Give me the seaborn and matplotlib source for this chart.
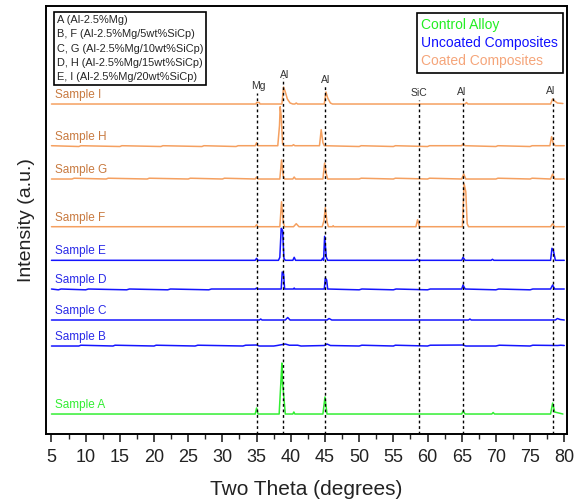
import numpy as np
import pandas as pd
import matplotlib
matplotlib.use("Agg")
import matplotlib.pyplot as plt
from matplotlib.lines import Line2D
import seaborn as sns

# XRD traces: two-theta positions and peak heights (a.u.)
samples = ["Sample A", "Sample B", "Sample C", "Sample D", "Sample E",
           "Sample F", "Sample G", "Sample H", "Sample I"]
groups = ["control", "uncoated", "uncoated", "uncoated", "uncoated",
          "coated", "coated", "coated", "coated"]
offsets = [20, 88, 114, 145, 173.7, 207.3, 255, 288.3, 330]

tt_a = [5, 34.8, 35.0, 35.2, 38.3, 38.6, 38.7, 38.8, 38.9, 39.2, 40.3, 40.45, 40.6,
        44.7, 45.0, 45.3, 65.0, 65.2, 65.5, 69.4, 69.6, 69.8, 78.0, 78.3, 78.6, 79.8]
int_a = [0, 0, 6, 0, 0, 38, 51, 30, 24, 0, 0, 2, 0,
         0, 17, 0, 0, 3, 0, 0, 1.5, 0, 0, 11, 2, 0]

tt_b = [5, 9, 9.3, 14, 14.3, 20, 20.3, 26, 26.4, 33, 33.4, 35.0, 35.4, 37.5, 38.0, 39.2, 39.8,
        41, 41.5, 44.9, 45.3, 45.8, 50, 50.4, 55, 55.3, 60, 60.4, 65.2, 65.6, 70, 70.5,
        75, 75.4, 79, 79.5, 80]
int_b = [0, 0, 0.8, 0, 0.8, 0, 0.8, 0, 0.8, 0, 0.8, 1, 0, 0, 0.5, 2, 0.8,
         0.8, 0, 0.5, 2, 0.5, 0, 0.8, 0, 0.8, 0, 0.8, 1, 0, 0, 0.8,
         0, 0.8, 0.5, 0.8, 0.5]

tt_c = [5, 35.4, 35.6, 35.8, 39.2, 39.55, 39.9, 45.3, 45.6, 46.0, 66.0, 66.2, 66.4,
        78.7, 79.0, 79.4, 80]
int_c = [0, 0, 1, 0, 0, 2.5, 0, 0, 1.5, 0, 0, 1, 0,
         0, 1.5, 0.5, 0]

tt_d = [5, 6, 6.4, 10, 10.4, 16, 16.4, 22, 22.4, 28, 28.4, 34.8, 35.0, 35.2, 38.6, 38.75,
        38.95, 39.1, 40.4, 40.5, 40.6, 44.9, 45.05, 45.25, 45.4, 50, 50.4, 55, 55.4,
        60, 60.4, 65.0, 65.2, 65.5, 70, 70.4, 75, 75.4, 78.0, 78.3, 78.6, 80]
int_d = [0, -0.8, 0, -0.8, 0, -0.8, 0, -0.8, 0, -0.8, 0, 0, 1, 0, 0, 17,
         15, 0, 0, 1, 0, 0, 11, 9, 0, -0.8, 0, -0.8, 0,
         -0.8, 0, 0, 4, 0, -0.8, 0, -0.8, 0, 0, 4, 0, 0]

tt_e = [5, 34.8, 35.0, 35.2, 38.2, 38.4, 38.6, 38.8, 39.0, 39.2, 40.3, 40.5, 40.7,
        44.5, 44.65, 44.8, 44.95, 45.2, 45.4, 58.3, 58.5, 58.7, 65.0, 65.2, 65.5,
        69.3, 69.5, 69.7, 78.0, 78.2, 78.4, 78.7, 80]
int_e = [0, 0, 2, 0, 0, 3, 32, 30, 2, 0, 0, 3, 0,
         0, 2, 0, 24, 3, 0, 0, 1, 0, 0, 3, 0,
         0, 1, 0, 0, 12, 10, 0, 0]

tt_f = [5, 34.8, 35.0, 35.2, 38.4, 38.65, 38.9, 39.1, 40.4, 40.8, 41.2, 44.6, 44.85,
        45.05, 45.3, 45.5, 46.1, 46.2, 46.3, 58.3, 58.55, 58.8, 65.1, 65.35, 65.6,
        65.8, 66.0, 78.0, 78.3, 78.6, 80]
int_f = [0, 0, 2, 0, 0, 25, 4, 0, 0, 3, 0, 0, 6,
         19, 5, 0, 0, 1, 0, 0, 7, 0, 0, 43, 35,
         3, 0, 0, 3, 0, 0]

tt_g = [5, 8, 8.3, 13, 13.3, 19, 19.3, 25, 25.3, 30, 30.3, 34.8, 35.0, 35.2, 38.4, 38.65,
        38.9, 39.1, 40.3, 40.5, 40.7, 44.7, 44.95, 45.2, 45.4, 50, 50.3, 55, 55.3,
        60, 60.3, 65.0, 65.3, 65.6, 70, 70.3, 75, 75.3, 78.0, 78.3, 78.6, 80]
int_g = [0, 0, 0.8, 0, 0.8, 0, 0.8, 0, 0.8, 0, 0.8, 0, 2, 0, 0, 19,
         3, 0, 0, 2, 0, 0, 16, 5, 0, 0, 0.8, 0, 0.8,
         0, 0.8, 0, 5, 0, 0, 0.8, 0, 0.8, 0, 5, 0, 0]

tt_h = [5, 9, 9.3, 15, 15.3, 21, 21.3, 27, 27.3, 32, 32.3, 34.8, 35.0, 35.2, 38.1, 38.35,
        38.45, 38.6, 38.8, 39.0, 40.2, 40.4, 40.6, 44.2, 44.45, 44.7, 44.9, 50, 50.3,
        55, 55.3, 60, 60.3, 65.0, 65.2, 65.5, 70, 70.3, 75, 75.3, 77.9, 78.15, 78.4,
        78.7, 80]
int_h = [0, -0.8, 0, -0.8, 0, -0.8, 0, -0.8, 0, -0.8, 0, 0, 3, 0, 0, 20,
         39, 30, 2, 0, 0, 1, 0, 0, 16, 3, 0, -0.8, 0,
         -0.8, 0, -0.8, 0, 0, 2, 0, -0.8, 0, -0.8, 0, 0, 9, 2,
         0, 0]

tt_i = [5, 34.9, 35.0, 35.4, 35.5, 38.7, 38.95, 39.2, 39.5, 39.9, 40.3, 40.6, 40.8,
        41.0, 44.9, 45.15, 45.4, 45.8, 46.1, 65.5, 65.7, 65.9, 78.0, 78.3, 78.6, 79.0,
        79.8]
int_i = [0, 0, 1.5, 1.5, 0, 0, 17, 12, 5, 1, 0, 0, 1,
         0, 0, 12, 6, 1, 0, 0, 1.5, 0, 0, 5, 3, 1,
         0.5]

traces_tt = [tt_a, tt_b, tt_c, tt_d, tt_e, tt_f, tt_g, tt_h, tt_i]
traces_int = [int_a, int_b, int_c, int_d, int_e, int_f, int_g, int_h, int_i]

# reference lines: position, top of dashed line, phase label
ref_pos = [35.0, 38.8, 45.0, 58.8, 65.2, 78.3]
ref_top = [341, 356, 350, 334, 336, 336]
ref_names = ["Mg", "Al", "Al", "SiC", "Al", "Al"]
ref_label_x = [35.2, 39.1, 45.1, 58.7, 65.0, 78.0]
ref_label_y = [348, 359, 354, 341, 342, 343]

composition_text = ["A (Al-2.5%Mg)",
                    "B, F (Al-2.5%Mg/5wt%SiCp)",
                    "C, G (Al-2.5%Mg/10wt%SiCp)",
                    "D, H (Al-2.5%Mg/15wt%SiCp)",
                    "E, I (Al-2.5%Mg/20wt%SiCp)"]
group_names = ["Control Alloy", "Uncoated Composites", "Coated Composites"]

line_colors = {"control": "#33ee33", "uncoated": "#1414ff", "coated": "#f5a060"}
label_colors = {"control": "#33ee33", "uncoated": "#2a2ae8", "coated": "#c87a40"}
legend_colors = ["#22ee22", "#1010ff", "#f5a57a"]

rows = []
for name, grp, off, tt, inten in zip(samples, groups, offsets, traces_tt, traces_int):
    for t, v in zip(tt, inten):
        rows.append({"sample": name, "group": grp, "two_theta": t, "intensity": v + off})
df = pd.DataFrame(rows)

sns.set_style("white")
plt.rcParams["font.family"] = ["Liberation Sans", "DejaVu Sans"]

fig = plt.figure(figsize=(5.76, 5.01), dpi=100)
ax = fig.add_axes([0.0807, 0.1337, 0.9033, 0.8543])

for name, grp in zip(samples, groups):
    sub = df[df["sample"] == name]
    sns.lineplot(data=sub, x="two_theta", y="intensity", ax=ax, color=line_colors[grp],
                 estimator=None, sort=False, linewidth=1.1, legend=False)

for pos, top, nm, lx, ly in zip(ref_pos, ref_top, ref_names, ref_label_x, ref_label_y):
    ax.plot([pos, pos], [0, top], color="black", linestyle=(0, (2, 2)), linewidth=1.0)
    ax.text(lx, ly, nm, fontsize=7.5, color="#333333", ha="center", va="center")

for name, grp, off in zip(samples, groups, offsets):
    ax.text(5.5, off + 9, name, fontsize=8.5, color=label_colors[grp], ha="left", va="center")

ax.set_xlim(4.27, 80.37)
ax.set_ylim(0, 428)
ax.set_xticks(np.arange(5, 81, 5))
ax.set_xticks(np.arange(7.5, 80, 5), minor=True)
ax.set_yticks([])
ax.tick_params(axis="x", which="major", direction="out", length=6, width=1.2,
               labelsize=13, pad=5, bottom=True, labelcolor="#222222")
ax.tick_params(axis="x", which="minor", direction="out", length=3.5, width=1.0, bottom=True)
for sp in ax.spines.values():
    sp.set_linewidth(1.4)
    sp.set_color("black")
ax.set_xlabel("Two Theta (degrees)", fontsize=15, labelpad=10, color="#222222")
ax.set_ylabel("Intensity (a.u.)", fontsize=14, labelpad=8, color="#222222")

blank = [Line2D([], [], linestyle="none") for _ in composition_text]
leg1 = ax.legend(blank, composition_text, loc="upper left", bbox_to_anchor=(0.014, 0.985),
                 handlelength=0, handletextpad=0, fontsize=7.9, frameon=True, fancybox=False,
                 edgecolor="black", framealpha=1, borderpad=0.25, labelspacing=0.38,
                 borderaxespad=0)
leg1.get_frame().set_linewidth(1.2)
ax.add_artist(leg1)

blank2 = [Line2D([], [], linestyle="none") for _ in group_names]
leg2 = ax.legend(blank2, group_names, loc="upper right", bbox_to_anchor=(0.993, 0.983),
                 handlelength=0, handletextpad=0, fontsize=10, frameon=True, fancybox=False,
                 edgecolor="black", framealpha=1, borderpad=0.35, labelspacing=0.3,
                 labelcolor=legend_colors, borderaxespad=0)
leg2.get_frame().set_linewidth(1.2)

fig.savefig("out.png", dpi=100)
